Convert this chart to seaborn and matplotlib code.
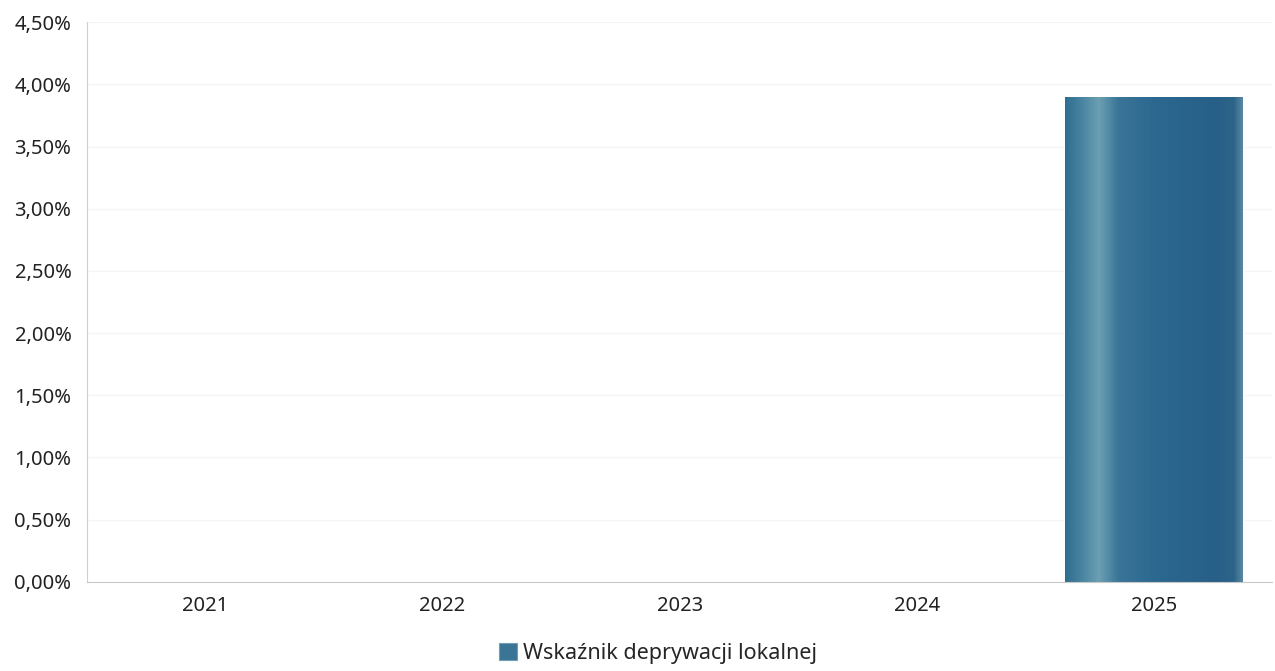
import numpy as np
import pandas as pd
import matplotlib
matplotlib.use('Agg')
import matplotlib.pyplot as plt
import seaborn as sns
from matplotlib.colors import LinearSegmentedColormap
from matplotlib.ticker import FuncFormatter, MultipleLocator

years = ['2021', '2022', '2023', '2024', '2025']
values = [0.0, 0.0, 0.0, 0.0, 3.9]
series_name = 'Wskaźnik deprywacji lokalnej'

sns.set_style('white')
plt.rcParams['font.family'] = ['Noto Sans', 'DejaVu Sans']

df = pd.DataFrame({'rok': years, 'wartosc': values})

fig, ax = plt.subplots(figsize=(12.75, 6.71), dpi=100)
fig.subplots_adjust(left=0.068, right=0.998, top=0.967, bottom=0.133)

base = '#2b6890'
sns.barplot(data=df, x='rok', y='wartosc', color=base, width=0.75, ax=ax, saturation=1)

# shaded cylinder look on the bars
grad = LinearSegmentedColormap.from_list('bar', [
    (0.0, '#306e90'), (0.1, '#4a86a2'), (0.19, '#6c9fb2'), (0.3, '#3a7597'),
    (0.5, '#2c6890'), (0.85, '#275f88'), (0.95, '#2c6489'), (1.0, '#5a87a3')])
strip = np.linspace(0, 1, 256).reshape(1, -1)
for p in ax.patches:
    x0, y0 = p.get_x(), p.get_y()
    w, h = p.get_width(), p.get_height()
    if h <= 0:
        continue
    im = ax.imshow(strip, cmap=grad, aspect='auto', extent=[x0, x0 + w, y0, y0 + h],
                   zorder=p.get_zorder() + 0.1)
    im.set_clip_path(p)

ax.set_xlim(-0.5, 4.5)
ax.set_ylim(0, 4.5)
ax.yaxis.set_major_locator(MultipleLocator(0.5))
ax.yaxis.set_major_formatter(FuncFormatter(lambda v, _: f'{v:.2f}%'.replace('.', ',')))
ax.grid(axis='y', color='#f5f5f5', linewidth=1)
ax.set_axisbelow(True)
ax.set_xlabel('')
ax.set_ylabel('')
ax.tick_params(axis='both', length=0, labelsize=14.5, colors='#222222')
ax.tick_params(axis='y', pad=11)
ax.tick_params(axis='x', pad=10)
for s in ['top', 'right']:
    ax.spines[s].set_visible(False)
ax.spines['left'].set_color('#d0d0d0')
ax.spines['bottom'].set_color('#c8c8c8')

legend_patch = plt.Rectangle((0, 0), 1, 1, facecolor='#3a7595', edgecolor='#6f9fb3', linewidth=0.8)
ax.legend([legend_patch], [series_name], loc='upper center', bbox_to_anchor=(0.482, -0.075),
          frameon=False, fontsize=15.5, handlelength=0.8, handleheight=0.8, handletextpad=0.3)

fig.savefig('out.png', dpi=100)
